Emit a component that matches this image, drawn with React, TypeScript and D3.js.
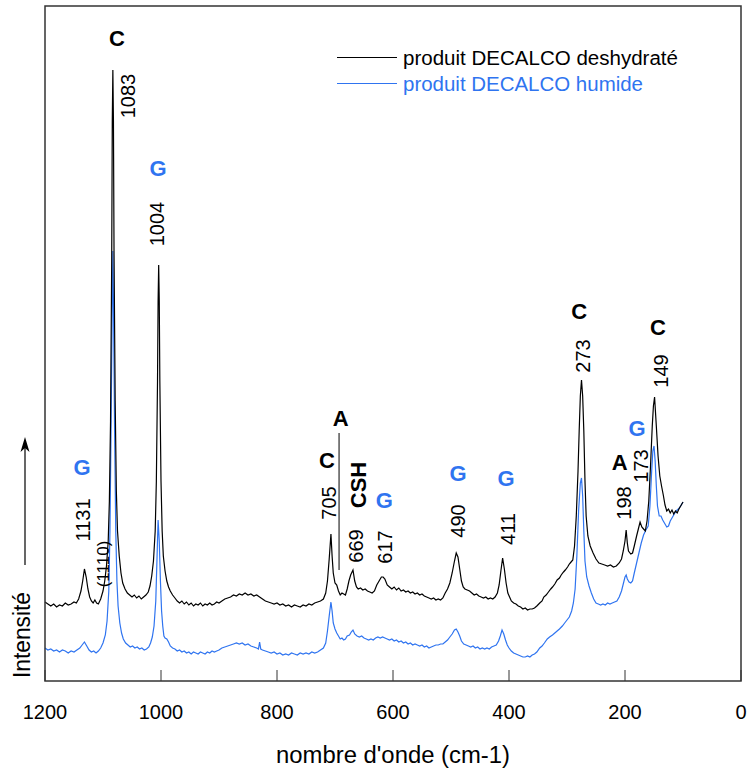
import React from "react";
import * as d3 from "d3";

// ---- data (wavenumber cm-1, intensity a.u.) ----
const deshydrate: [number, number][] = [
  [1200, 79], [1195, 77], [1190, 75], [1185, 77], [1180, 74], [1175, 76], [1170, 75], [1165, 78], [1160, 76], [1155, 77],
  [1150, 79], [1146, 78], [1142, 82], [1138, 90], [1135, 100], [1132, 112], [1129, 104], [1126, 92], [1123, 84], [1120, 80],
  [1117, 78], [1114, 81], [1111, 78], [1108, 77], [1104, 82], [1100, 90], [1097, 100], [1094, 115], [1091, 140], [1089, 180],
  [1087, 260], [1085, 420], [1084, 560], [1083, 611], [1082, 560], [1081, 430], [1079, 280], [1077, 190], [1075, 150], [1072, 125],
  [1069, 108], [1066, 98], [1062, 92], [1058, 88], [1054, 86], [1050, 84], [1046, 86], [1042, 83], [1038, 85], [1034, 82],
  [1030, 84], [1026, 86], [1022, 89], [1019, 95], [1016, 105], [1013, 120], [1010, 150], [1008, 200], [1006, 300], [1005, 380],
  [1004, 416], [1003, 380], [1002, 300], [1000, 200], [998, 150], [996, 125], [993, 110], [990, 100], [987, 94], [984, 90],
  [980, 86], [976, 83], [972, 80], [968, 78], [964, 80], [960, 77], [956, 79], [952, 76], [948, 78], [944, 75],
  [940, 77], [936, 76], [932, 78], [928, 75], [924, 77], [920, 76], [916, 78], [912, 76], [908, 77], [904, 79],
  [900, 78], [895, 80], [890, 82], [885, 83], [880, 84], [875, 86], [870, 85], [865, 87], [860, 86], [855, 88],
  [850, 86], [845, 87], [840, 85], [835, 86], [830, 84], [825, 82], [820, 80], [815, 79], [810, 78], [805, 77],
  [800, 78], [795, 76], [790, 77], [785, 75], [780, 76], [775, 74], [770, 76], [765, 75], [760, 74], [755, 76],
  [750, 75], [745, 77], [740, 76], [735, 78], [730, 79], [725, 80], [720, 82], [716, 88], [713, 100], [710, 122],
  [707, 147], [705, 125], [703, 108], [700, 98], [697, 96], [694, 90], [691, 86], [688, 88], [685, 87], [682, 86],
  [679, 92], [676, 100], [673, 106], [669, 111], [666, 100], [663, 94], [660, 92], [656, 93], [652, 91], [648, 92],
  [644, 90], [640, 89], [636, 88], [632, 90], [628, 96], [624, 100], [620, 104], [617, 104], [614, 102], [610, 96],
  [606, 94], [602, 92], [598, 94], [594, 91], [590, 93], [586, 90], [582, 91], [578, 89], [574, 90], [570, 88],
  [566, 89], [562, 87], [558, 88], [554, 86], [550, 87], [546, 85], [542, 84], [538, 83], [534, 82], [530, 83],
  [526, 81], [522, 82], [518, 81], [514, 83], [510, 88], [506, 92], [502, 98], [498, 108], [494, 120], [491, 128],
  [488, 124], [485, 112], [482, 100], [479, 94], [476, 92], [472, 91], [468, 90], [464, 88], [460, 86], [456, 87],
  [452, 85], [448, 84], [444, 83], [440, 84], [436, 82], [432, 83], [428, 82], [424, 84], [420, 88], [417, 96],
  [414, 110], [411, 123], [408, 112], [405, 98], [402, 88], [399, 84], [396, 80], [392, 78], [388, 77], [384, 75],
  [380, 74], [376, 72], [372, 73], [368, 71], [364, 72], [360, 72], [356, 73], [352, 75], [347, 78], [343, 80],
  [340, 84], [336, 86], [332, 89], [328, 92], [325, 94], [321, 97], [317, 101], [313, 103], [310, 106], [306, 109],
  [303, 111], [299, 114], [296, 117], [293, 119], [290, 121], [287, 135], [284, 165], [281, 210], [279, 250], [277, 285],
  [275, 301], [273, 285], [271, 250], [269, 200], [267, 165], [264, 145], [260, 135], [255, 128], [250, 122], [245, 118],
  [240, 117], [235, 116], [230, 115], [225, 116], [220, 114], [215, 115], [210, 118], [206, 122], [203, 130], [200, 140],
  [198, 151], [196, 138], [194, 130], [190, 127], [187, 128], [184, 135], [180, 145], [177, 152], [174, 159], [171, 154],
  [168, 152], [165, 150], [162, 160], [159, 180], [156, 215], [153, 255], [151, 275], [149, 284], [146, 255], [143, 225],
  [140, 205], [137, 195], [134, 186], [131, 176], [128, 170], [125, 172], [122, 168], [119, 171], [116, 167], [113, 170],
  [110, 168], [107, 172], [104, 175], [100, 179],
];

const humide: [number, number][] = [
  [1200, 33], [1195, 31], [1190, 32], [1185, 30], [1180, 31], [1175, 29], [1170, 31], [1165, 30], [1160, 28], [1155, 30],
  [1150, 29], [1145, 31], [1140, 33], [1136, 36], [1132, 39], [1128, 35], [1124, 31], [1120, 29], [1116, 30], [1112, 28],
  [1108, 30], [1104, 33], [1100, 38], [1096, 46], [1093, 60], [1090, 90], [1088, 150], [1086, 260], [1084, 380], [1083, 430],
  [1082, 380], [1080, 250], [1078, 150], [1076, 100], [1074, 75], [1071, 58], [1068, 48], [1065, 42], [1061, 38], [1057, 36],
  [1053, 34], [1049, 35], [1045, 33], [1041, 34], [1037, 32], [1033, 33], [1029, 31], [1025, 32], [1021, 34], [1018, 38],
  [1015, 44], [1012, 55], [1009, 80], [1007, 120], [1005, 161], [1003, 140], [1001, 100], [999, 70], [997, 55], [995, 45],
  [993, 43], [990, 42], [987, 39], [984, 35], [980, 33], [976, 32], [972, 30], [968, 31], [964, 29], [960, 30],
  [956, 28], [952, 29], [948, 27], [944, 29], [940, 28], [936, 27], [932, 29], [928, 28], [924, 27], [920, 29],
  [916, 28], [912, 30], [908, 29], [904, 30], [900, 31], [895, 33], [890, 34], [885, 35], [880, 36], [875, 37],
  [870, 38], [865, 37], [860, 38], [855, 36], [850, 37], [845, 35], [840, 34], [835, 33], [832, 32], [830, 39],
  [828, 32], [825, 31], [820, 30], [815, 29], [810, 28], [805, 29], [800, 27], [795, 28], [790, 26], [785, 27],
  [780, 26], [775, 28], [770, 27], [765, 26], [760, 28], [755, 27], [750, 28], [745, 27], [740, 29], [735, 28],
  [730, 29], [725, 31], [720, 33], [716, 38], [713, 50], [710, 65], [707, 79], [705, 70], [703, 58], [700, 52],
  [697, 48], [694, 45], [691, 42], [688, 43], [685, 41], [682, 42], [679, 45], [675, 46], [672, 49], [669, 51],
  [666, 47], [662, 45], [658, 44], [654, 45], [650, 43], [646, 42], [642, 41], [638, 42], [634, 41], [630, 43],
  [626, 44], [622, 43], [618, 44], [614, 43], [610, 42], [606, 41], [602, 42], [598, 40], [594, 41], [590, 39],
  [586, 40], [582, 38], [578, 39], [574, 37], [570, 38], [566, 36], [562, 37], [558, 36], [554, 35], [550, 36],
  [546, 34], [542, 35], [538, 33], [534, 34], [530, 35], [526, 36], [522, 36], [518, 37], [514, 37], [510, 39],
  [506, 41], [502, 44], [498, 47], [494, 51], [491, 52], [488, 49], [485, 45], [482, 40], [478, 37], [474, 36],
  [470, 35], [466, 34], [462, 35], [458, 33], [454, 34], [450, 32], [446, 33], [442, 32], [438, 33], [434, 32],
  [430, 34], [426, 35], [422, 36], [418, 40], [415, 45], [412, 51], [409, 47], [406, 41], [403, 36], [400, 33],
  [396, 30], [392, 28], [388, 27], [384, 26], [380, 25], [376, 24], [372, 24], [368, 25], [364, 24], [360, 26],
  [356, 27], [352, 29], [347, 33], [343, 35], [339, 38], [334, 42], [330, 44], [325, 46], [321, 48], [317, 50],
  [313, 52], [308, 55], [304, 58], [300, 61], [296, 64], [292, 70], [289, 78], [286, 92], [283, 125], [280, 170],
  [277, 198], [275, 203], [273, 185], [271, 150], [269, 120], [266, 104], [262, 95], [258, 88], [254, 82], [250, 78],
  [246, 77], [242, 76], [238, 77], [234, 76], [230, 78], [226, 77], [222, 78], [218, 79], [214, 80], [210, 84],
  [206, 90], [203, 97], [200, 104], [198, 106], [196, 102], [193, 99], [190, 98], [187, 100], [184, 108], [180, 118],
  [176, 128], [172, 138], [168, 146], [164, 151], [160, 155], [157, 175], [154, 210], [152, 230], [150, 235], [148, 220],
  [146, 195], [144, 175], [141, 165], [138, 165], [135, 161], [131, 157], [128, 154], [125, 155], [122, 160], [119, 163],
  [116, 166], [112, 170], [108, 172], [104, 175], [100, 179],
];

const xTicks = [1200, 1000, 800, 600, 400, 200, 0];

// peak wavenumber labels (label anchor in data space)
const peakNumbers = [
  { text: "1083", w: 1057, i: 585 },
  { text: "1004", w: 1007, i: 457 },
  { text: "1131", w: 1134, i: 161 },
  { text: "705", w: 710, i: 178 },
  { text: "669", w: 664, i: 135 },
  { text: "617", w: 614, i: 134 },
  { text: "490", w: 488, i: 160 },
  { text: "411", w: 402, i: 152 },
  { text: "273", w: 272, i: 325 },
  { text: "198", w: 202, i: 178 },
  { text: "173", w: 172, i: 215 },
  { text: "149", w: 138, i: 310 },
];
const minorPeak = [{ text: "(1110)", w: 1100, i: 117 }];

// phase letters: C calcite, G gypse, A aragonite
const phaseLetters = [
  { text: "C", w: 1076, i: 643, series: "deshydrate" },
  { text: "G", w: 1005, i: 513, series: "humide" },
  { text: "G", w: 1136, i: 214, series: "humide" },
  { text: "C", w: 714, i: 221, series: "deshydrate" },
  { text: "A", w: 690, i: 263, series: "deshydrate" },
  { text: "G", w: 615, i: 181, series: "humide" },
  { text: "G", w: 488, i: 208, series: "humide" },
  { text: "G", w: 405, i: 203, series: "humide" },
  { text: "C", w: 279, i: 370, series: "deshydrate" },
  { text: "A", w: 209, i: 219, series: "deshydrate" },
  { text: "G", w: 179, i: 253, series: "humide" },
  { text: "C", w: 143, i: 354, series: "deshydrate" },
];
const cshLabel = [{ text: "CSH", w: 660, i: 196 }];
const aragoniteMarker = [{ w: 693, i0: 111, i1: 248 }];

const legendLabels = ["produit DECALCO deshydraté", "produit DECALCO humide"];

const BLACK = "#000000";
const BLUE = "#2f74f0";
const FONT = "'Liberation Sans', Arial, Helvetica, sans-serif";

export default function App() {
  const W = 750;
  const H = 773;
  const left = 45, right = 741, top = 6, bottom = 681;

  const x = d3.scaleLinear().domain([1200, 0]).range([left, right]);
  const y = d3.scaleLinear().domain([0, 675]).range([bottom, top]);

  const line = d3
    .line<[number, number]>()
    .x((d) => x(d[0]))
    .y((d) => y(d[1]));

  const colorOf = (s: string) => (s === "humide" ? BLUE : BLACK);

  return (
    <svg
      width={W}
      height={H}
      style={{ position: "absolute", left: 0, top: 0, background: "#fff" }}
      fontFamily={FONT}
    >
      <rect x={0} y={0} width={W} height={H} fill="#fff" />
      {/* spectra */}
      <path d={line(humide) || ""} fill="none" stroke={BLUE} strokeWidth={1.2} />
      <path d={line(deshydrate) || ""} fill="none" stroke={BLACK} strokeWidth={1.2} />

      {/* frame */}
      <rect
        x={left}
        y={top}
        width={right - left}
        height={bottom - top}
        fill="none"
        stroke="#333"
        strokeWidth={1.5}
      />
      {/* ticks (inward) */}
      {xTicks.map((t) => (
        <line key={"tk" + t} x1={x(t)} x2={x(t)} y1={bottom} y2={bottom - 11} stroke="#333" strokeWidth={1} />
      ))}
      {xTicks.map((t) => (
        <text key={"tl" + t} x={x(t)} y={719} fontSize={20} textAnchor="middle" fill="#000">
          {t}
        </text>
      ))}
      <text x={393} y={763} fontSize={23} textAnchor="middle" textLength={234} lengthAdjust="spacingAndGlyphs">
        nombre d'onde (cm-1)
      </text>

      {/* y label & arrow */}
      <text
        transform={`translate(30, 635) rotate(-90)`}
        fontSize={23}
        textAnchor="middle"
        textLength={86}
        lengthAdjust="spacingAndGlyphs"
      >
        Intensité
      </text>
      <line x1={25} x2={25} y1={565} y2={448} stroke="#000" strokeWidth={1.2} />
      <path d="M25,437 L20.5,452 L25,448 L29.5,452 Z" fill="#000" />

      {/* legend */}
      <line x1={337} x2={397} y1={57.5} y2={57.5} stroke={BLACK} strokeWidth={1} />
      <text x={403} y={65} fontSize={20} fill={BLACK} textLength={275} lengthAdjust="spacingAndGlyphs">
        {legendLabels[0]}
      </text>
      <line x1={337} x2={397} y1={83.5} y2={83.5} stroke={BLUE} strokeWidth={1} />
      <text x={403} y={91} fontSize={20} fill={BLUE} textLength={240} lengthAdjust="spacingAndGlyphs">
        {legendLabels[1]}
      </text>

      {/* peak numbers */}
      {peakNumbers.map((p, k) => (
        <text
          key={"pn" + k}
          transform={`translate(${x(p.w)}, ${y(p.i)}) rotate(-90)`}
          fontSize={20}
          textAnchor="middle"
          dominantBaseline="central"
          fill="#000"
        >
          {p.text}
        </text>
      ))}
      {minorPeak.map((p, k) => (
        <text
          key={"mp" + k}
          transform={`translate(${x(p.w)}, ${y(p.i)}) rotate(-90)`}
          fontSize={17}
          textAnchor="middle"
          dominantBaseline="central"
          fill="#000"
        >
          {p.text}
        </text>
      ))}
      {cshLabel.map((p, k) => (
        <text
          key={"csh" + k}
          transform={`translate(${x(p.w)}, ${y(p.i)}) rotate(-90)`}
          fontSize={22}
          fontWeight="bold"
          textAnchor="middle"
          dominantBaseline="central"
          fill="#000"
        >
          {p.text}
        </text>
      ))}
      {phaseLetters.map((p, k) => (
        <text
          key={"ph" + k}
          x={x(p.w)}
          y={y(p.i)}
          fontSize={22}
          fontWeight="bold"
          textAnchor="middle"
          dominantBaseline="central"
          fill={colorOf(p.series)}
        >
          {p.text}
        </text>
      ))}
      {aragoniteMarker.map((m, k) => (
        <line key={"am" + k} x1={x(m.w)} x2={x(m.w)} y1={y(m.i0)} y2={y(m.i1)} stroke="#000" strokeWidth={1} />
      ))}
    </svg>
  );
}
